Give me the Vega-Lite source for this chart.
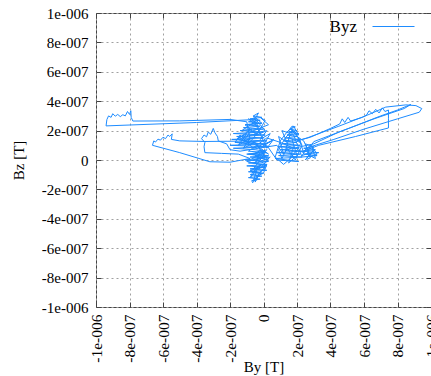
{
  "$schema": "https://vega.github.io/schema/vega-lite/v6.json",
  "width": 335,
  "height": 294,
  "autosize": "none",
  "padding": {"left": 96, "top": 13, "right": 0, "bottom": 69},
  "background": "white",
  "config": {
    "font": "Liberation Serif",
    "view": {"stroke": "#444444", "strokeWidth": 1},
    "axis": {
      "domain": false,
      "gridColor": "#a0a0a0",
      "gridDash": [2, 3],
      "gridWidth": 1,
      "tickColor": "#444444",
      "tickSize": -5,
      "labelFont": "Liberation Serif",
      "titleFont": "Liberation Serif",
      "labelColor": "black",
      "titleColor": "black",
      "titleFontWeight": "normal",
      "titleFontSize": 15
    },
    "legend": {"labelFont": "Liberation Serif"}
  },
  "data": {
    "values": [
      {"t":1,"by":-2e-8,"bz":5e-8},{"t":2,"by":-5e-8,"bz":-2e-8},{"t":3,"by":0,"bz":3e-8},{"t":4,"by":-6e-8,"bz":-6e-8},
      {"t":5,"by":-1e-8,"bz":-3e-8},{"t":6,"by":-7e-8,"bz":-9e-8},{"t":7,"by":-3e-8,"bz":-4e-8},{"t":8,"by":-8e-8,"bz":-12e-8},
      {"t":9,"by":-4e-8,"bz":-7e-8},{"t":10,"by":-6e-8,"bz":-14e-8},{"t":11,"by":-3e-8,"bz":-10e-8},{"t":12,"by":-5e-8,"bz":-15e-8},
      {"t":13,"by":-2e-8,"bz":-8e-8},{"t":14,"by":1e-8,"bz":-5e-8},{"t":15,"by":-4e-8,"bz":-11e-8},{"t":16,"by":0,"bz":-9e-8},
      {"t":17,"by":2e-8,"bz":-3e-8},{"t":18,"by":-3e-8,"bz":-6e-8},{"t":19,"by":3e-8,"bz":0},{"t":20,"by":-1e-8,"bz":1e-8},
      {"t":21,"by":-5e-8,"bz":3e-8},{"t":22,"by":1e-8,"bz":5e-8},{"t":23,"by":-7e-8,"bz":1e-8},{"t":24,"by":-2e-8,"bz":-1e-8},
      {"t":25,"by":4e-8,"bz":2e-8},{"t":26,"by":0,"bz":-2e-8},{"t":27,"by":-4e-8,"bz":0},{"t":28,"by":2e-8,"bz":7e-8},
      {"t":29,"by":-6e-8,"bz":4e-8},{"t":30,"by":-1e-8,"bz":7e-8},{"t":31,"by":3e-8,"bz":4e-8},{"t":32,"by":-3e-8,"bz":9e-8},
      {"t":33,"by":1e-8,"bz":2e-8},{"t":34,"by":-5e-8,"bz":12e-8},{"t":35,"by":-12e-8,"bz":8e-8},{"t":36,"by":-8e-8,"bz":15e-8},
      {"t":37,"by":-15e-8,"bz":10e-8},{"t":38,"by":-10e-8,"bz":18e-8},{"t":39,"by":-16e-8,"bz":14e-8},{"t":40,"by":-7e-8,"bz":21e-8},
      {"t":41,"by":-13e-8,"bz":20e-8},{"t":42,"by":-5e-8,"bz":26e-8},{"t":43,"by":-9e-8,"bz":28e-8},{"t":44,"by":-3e-8,"bz":22e-8},
      {"t":45,"by":-6e-8,"bz":30e-8},{"t":46,"by":-1e-8,"bz":25e-8},{"t":47,"by":-11e-8,"bz":24e-8},{"t":48,"by":-4e-8,"bz":17e-8},
      {"t":49,"by":2e-8,"bz":20e-8},{"t":50,"by":-2e-8,"bz":14e-8},{"t":51,"by":4e-8,"bz":18e-8},{"t":52,"by":0,"bz":10e-8},
      {"t":53,"by":5e-8,"bz":13e-8},{"t":54,"by":-6e-8,"bz":8e-8},{"t":55,"by":-14e-8,"bz":17e-8},{"t":56,"by":-17e-8,"bz":12e-8},
      {"t":57,"by":-9e-8,"bz":11e-8},{"t":58,"by":-3e-8,"bz":19e-8},{"t":59,"by":1e-8,"bz":27e-8},{"t":60,"by":-2e-8,"bz":29e-8},
      {"t":61,"by":3e-8,"bz":24e-8},{"t":62,"by":-8e-8,"bz":19e-8},{"t":63,"by":-12e-8,"bz":13e-8},{"t":64,"by":-1e-8,"bz":9e-8},
      {"t":65,"by":6e-8,"bz":14e-8},{"t":66,"by":2e-8,"bz":8e-8},{"t":67,"by":-6e-8,"bz":27.5e-8},{"t":68,"by":-40e-8,"bz":25.5e-8},
      {"t":69,"by":-94e-8,"bz":23.2e-8},{"t":70,"by":-93.5e-8,"bz":27.5e-8},{"t":71,"by":-92.5e-8,"bz":30e-8},{"t":72,"by":-91e-8,"bz":29e-8},
      {"t":73,"by":-90e-8,"bz":31.5e-8},{"t":74,"by":-88.5e-8,"bz":29.8e-8},{"t":75,"by":-87e-8,"bz":31e-8},{"t":76,"by":-85.5e-8,"bz":29.5e-8},
      {"t":77,"by":-84e-8,"bz":30.8e-8},{"t":78,"by":-82.5e-8,"bz":30e-8},{"t":79,"by":-81.2e-8,"bz":33e-8},{"t":80,"by":-80e-8,"bz":31e-8},
      {"t":81,"by":-79.2e-8,"bz":33.5e-8},{"t":82,"by":-79e-8,"bz":29e-8},{"t":83,"by":-78e-8,"bz":26.5e-8},{"t":84,"by":-50e-8,"bz":26.6e-8},
      {"t":85,"by":-20e-8,"bz":27.6e-8},{"t":86,"by":-10e-8,"bz":26e-8},{"t":87,"by":-8e-8,"bz":14e-8},{"t":88,"by":-15e-8,"bz":12.8e-8},
      {"t":89,"by":-35e-8,"bz":12.6e-8},{"t":90,"by":-50e-8,"bz":13e-8},{"t":91,"by":-55e-8,"bz":14e-8},{"t":92,"by":-54.5e-8,"bz":17.8e-8},
      {"t":93,"by":-56e-8,"bz":16e-8},{"t":94,"by":-57e-8,"bz":17e-8},{"t":95,"by":-58.5e-8,"bz":14.5e-8},{"t":96,"by":-60e-8,"bz":15.5e-8},
      {"t":97,"by":-61.5e-8,"bz":13.5e-8},{"t":98,"by":-63e-8,"bz":14.2e-8},{"t":99,"by":-64.5e-8,"bz":12.2e-8},{"t":100,"by":-65.5e-8,"bz":13e-8},
      {"t":101,"by":-66.3e-8,"bz":10e-8},{"t":102,"by":-50e-8,"bz":5e-8},{"t":103,"by":-32e-8,"bz":-1.2e-8},{"t":104,"by":-20e-8,"bz":-1.5e-8},
      {"t":105,"by":-8e-8,"bz":1e-8},{"t":106,"by":-15e-8,"bz":4e-8},{"t":107,"by":-25e-8,"bz":4.5e-8},{"t":108,"by":-35e-8,"bz":5e-8},
      {"t":109,"by":-35.5e-8,"bz":9e-8},{"t":110,"by":-35e-8,"bz":12e-8},{"t":111,"by":-37e-8,"bz":14.5e-8},{"t":112,"by":-35.5e-8,"bz":17e-8},
      {"t":113,"by":-34e-8,"bz":15.8e-8},{"t":114,"by":-33e-8,"bz":19e-8},{"t":115,"by":-31.5e-8,"bz":17.5e-8},{"t":116,"by":-30e-8,"bz":21.5e-8},
      {"t":117,"by":-29e-8,"bz":18.5e-8},{"t":118,"by":-27.5e-8,"bz":16e-8},{"t":119,"by":-27e-8,"bz":13e-8},{"t":120,"by":-22e-8,"bz":11e-8},
      {"t":121,"by":-20e-8,"bz":7e-8},{"t":122,"by":-14e-8,"bz":6e-8},{"t":123,"by":8e-8,"bz":10e-8},{"t":124,"by":12e-8,"bz":4e-8},
      {"t":125,"by":9e-8,"bz":16e-8},{"t":126,"by":14e-8,"bz":12e-8},{"t":127,"by":11e-8,"bz":20e-8},{"t":128,"by":16e-8,"bz":18e-8},
      {"t":129,"by":13e-8,"bz":6e-8},{"t":130,"by":18e-8,"bz":9e-8},{"t":131,"by":15e-8,"bz":-2e-8},{"t":132,"by":20e-8,"bz":3e-8},
      {"t":133,"by":17e-8,"bz":14e-8},{"t":134,"by":22e-8,"bz":12e-8},{"t":135,"by":19e-8,"bz":19e-8},{"t":136,"by":16e-8,"bz":21e-8},
      {"t":137,"by":21e-8,"bz":17e-8},{"t":138,"by":18e-8,"bz":23e-8},{"t":139,"by":14e-8,"bz":19e-8},{"t":140,"by":10e-8,"bz":13e-8},
      {"t":141,"by":7e-8,"bz":2e-8},{"t":142,"by":12e-8,"bz":-3e-8},{"t":143,"by":16e-8,"bz":1e-8},{"t":144,"by":20e-8,"bz":7e-8},
      {"t":145,"by":24e-8,"bz":5e-8},{"t":146,"by":21e-8,"bz":15e-8},{"t":147,"by":23e-8,"bz":10e-8},{"t":148,"by":19e-8,"bz":0},
      {"t":149,"by":14e-8,"bz":8e-8},{"t":150,"by":11e-8,"bz":1e-8},{"t":151,"by":9e-8,"bz":7e-8},{"t":152,"by":13e-8,"bz":15e-8},
      {"t":153,"by":17e-8,"bz":20e-8},{"t":154,"by":20e-8,"bz":16e-8},{"t":155,"by":24e-8,"bz":13e-8},{"t":156,"by":26e-8,"bz":8e-8},
      {"t":157,"by":23e-8,"bz":3e-8},{"t":158,"by":28e-8,"bz":5e-8},{"t":159,"by":25e-8,"bz":0},{"t":160,"by":30e-8,"bz":7e-8},
      {"t":161,"by":27e-8,"bz":2e-8},{"t":162,"by":32e-8,"bz":4e-8},{"t":163,"by":29e-8,"bz":9e-8},{"t":164,"by":31e-8,"bz":1e-8},
      {"t":165,"by":26e-8,"bz":4e-8},{"t":166,"by":28e-8,"bz":10e-8},{"t":167,"by":24e-8,"bz":6e-8},{"t":168,"by":33e-8,"bz":10e-8},
      {"t":169,"by":55e-8,"bz":16e-8},{"t":170,"by":74.6e-8,"bz":21.8e-8},{"t":171,"by":74.6e-8,"bz":28e-8},{"t":172,"by":74.6e-8,"bz":34e-8},
      {"t":173,"by":72.5e-8,"bz":33e-8},{"t":174,"by":71e-8,"bz":35.5e-8},{"t":175,"by":69e-8,"bz":32e-8},{"t":176,"by":67e-8,"bz":34.5e-8},
      {"t":177,"by":65e-8,"bz":31.5e-8},{"t":178,"by":63e-8,"bz":33.5e-8},{"t":179,"by":61.5e-8,"bz":30.5e-8},{"t":180,"by":59e-8,"bz":29e-8},
      {"t":181,"by":52e-8,"bz":26.5e-8},{"t":182,"by":50.5e-8,"bz":29e-8},{"t":183,"by":48.5e-8,"bz":25.5e-8},{"t":184,"by":47e-8,"bz":28e-8},
      {"t":185,"by":45.5e-8,"bz":24.5e-8},{"t":186,"by":40e-8,"bz":21.5e-8},{"t":187,"by":28e-8,"bz":15.5e-8},{"t":188,"by":20e-8,"bz":13e-8},
      {"t":189,"by":26e-8,"bz":15e-8},{"t":190,"by":45e-8,"bz":23e-8},{"t":191,"by":62e-8,"bz":30.5e-8},{"t":192,"by":73e-8,"bz":36e-8},
      {"t":193,"by":85e-8,"bz":37.5e-8},{"t":194,"by":91e-8,"bz":37e-8},{"t":195,"by":94.5e-8,"bz":35e-8},{"t":196,"by":93e-8,"bz":32.5e-8},
      {"t":197,"by":80e-8,"bz":28e-8},{"t":198,"by":60e-8,"bz":21e-8},{"t":199,"by":42e-8,"bz":14e-8},{"t":200,"by":28e-8,"bz":9e-8},
      {"t":201,"by":30e-8,"bz":12.5e-8},{"t":202,"by":52e-8,"bz":22e-8},{"t":203,"by":70e-8,"bz":30e-8},{"t":204,"by":80e-8,"bz":34e-8},
      {"t":205,"by":88e-8,"bz":37.8e-8},{"t":206,"by":84e-8,"bz":35e-8},{"t":207,"by":66e-8,"bz":28e-8},{"t":208,"by":45e-8,"bz":19e-8},
      {"t":209,"by":30e-8,"bz":11e-8},{"t":210,"by":18e-8,"bz":8e-8},{"t":211,"by":10e-8,"bz":12e-8},{"t":212,"by":2e-8,"bz":15e-8},
      {"t":213,"by":-9e-8,"bz":6e-8},{"t":214,"by":2e-8,"bz":5e-8},{"t":215,"by":-10e-8,"bz":4e-8},{"t":216,"by":3e-8,"bz":3e-8},
      {"t":217,"by":-8e-8,"bz":2e-8},{"t":218,"by":1e-8,"bz":1.5e-8},{"t":219,"by":-11e-8,"bz":0},{"t":220,"by":3e-8,"bz":-1e-8},
      {"t":221,"by":-9e-8,"bz":-2e-8},{"t":222,"by":2e-8,"bz":-3e-8},{"t":223,"by":-10e-8,"bz":-4e-8},{"t":224,"by":1e-8,"bz":-5e-8},
      {"t":225,"by":-8e-8,"bz":-6e-8},{"t":226,"by":2e-8,"bz":-7e-8},{"t":227,"by":-9e-8,"bz":-8e-8},{"t":228,"by":0,"bz":-9e-8},
      {"t":229,"by":-8e-8,"bz":-10e-8},{"t":230,"by":-1e-8,"bz":-11e-8},{"t":231,"by":-9e-8,"bz":-12e-8},{"t":232,"by":-2e-8,"bz":-13e-8},
      {"t":233,"by":-7e-8,"bz":-14e-8},{"t":234,"by":-6.5e-8,"bz":-15.5e-8},{"t":235,"by":-4e-8,"bz":-12e-8},{"t":236,"by":-1e-8,"bz":-9e-8},
      {"t":237,"by":-8e-8,"bz":-7e-8},{"t":238,"by":2e-8,"bz":-4e-8},{"t":239,"by":-10e-8,"bz":-1e-8},{"t":240,"by":3e-8,"bz":2e-8},
      {"t":241,"by":-9e-8,"bz":4e-8},{"t":242,"by":1e-8,"bz":6e-8},{"t":243,"by":-5e-8,"bz":7e-8},
      {"t":244,"by":-18e-8,"bz":8e-8},{"t":245,"by":2e-8,"bz":9e-8},{"t":246,"by":-20e-8,"bz":10e-8},{"t":247,"by":1e-8,"bz":11e-8},
      {"t":248,"by":-17e-8,"bz":12e-8},{"t":249,"by":2e-8,"bz":13e-8},{"t":250,"by":-19e-8,"bz":14e-8},{"t":251,"by":0,"bz":15e-8},
      {"t":252,"by":-16e-8,"bz":16e-8},{"t":253,"by":1e-8,"bz":17e-8},{"t":254,"by":-18e-8,"bz":18e-8},{"t":255,"by":-1e-8,"bz":19e-8},
      {"t":256,"by":-14e-8,"bz":20e-8},{"t":257,"by":0,"bz":21e-8},{"t":258,"by":-12e-8,"bz":22e-8},{"t":259,"by":-2e-8,"bz":23e-8},
      {"t":260,"by":-11e-8,"bz":24e-8},{"t":261,"by":-1e-8,"bz":25e-8},{"t":262,"by":-9e-8,"bz":26e-8},{"t":263,"by":-2e-8,"bz":27e-8},
      {"t":264,"by":-8e-8,"bz":28e-8},{"t":265,"by":-1e-8,"bz":29e-8},{"t":266,"by":-6e-8,"bz":30e-8},{"t":267,"by":-3e-8,"bz":32e-8},
      {"t":268,"by":-5e-8,"bz":28e-8},{"t":269,"by":1e-8,"bz":20e-8},{"t":270,"by":-15e-8,"bz":14e-8},{"t":271,"by":2e-8,"bz":10e-8},
      {"t":272,"by":8e-8,"bz":0},{"t":273,"by":21e-8,"bz":-1e-8},{"t":274,"by":7e-8,"bz":1e-8},{"t":275,"by":23e-8,"bz":2e-8},
      {"t":276,"by":9e-8,"bz":3e-8},{"t":277,"by":22e-8,"bz":4e-8},{"t":278,"by":8e-8,"bz":5e-8},{"t":279,"by":23e-8,"bz":6e-8},
      {"t":280,"by":10e-8,"bz":7e-8},{"t":281,"by":21e-8,"bz":8e-8},{"t":282,"by":9e-8,"bz":9e-8},{"t":283,"by":22e-8,"bz":10e-8},
      {"t":284,"by":11e-8,"bz":11e-8},{"t":285,"by":20e-8,"bz":12e-8},{"t":286,"by":12e-8,"bz":13e-8},{"t":287,"by":21e-8,"bz":14e-8},
      {"t":288,"by":13e-8,"bz":15e-8},{"t":289,"by":20e-8,"bz":16e-8},{"t":290,"by":14e-8,"bz":17e-8},{"t":291,"by":21e-8,"bz":18e-8},
      {"t":292,"by":15e-8,"bz":19e-8},{"t":293,"by":20e-8,"bz":20e-8},{"t":294,"by":16e-8,"bz":21e-8},{"t":295,"by":19e-8,"bz":22.5e-8},
      {"t":296,"by":17e-8,"bz":23e-8},{"t":297,"by":15e-8,"bz":20e-8},{"t":298,"by":18e-8,"bz":17e-8},
      {"t":299,"by":23e-8,"bz":2e-8},{"t":300,"by":32e-8,"bz":3e-8},{"t":301,"by":24e-8,"bz":4e-8},{"t":302,"by":33e-8,"bz":5e-8},
      {"t":303,"by":23e-8,"bz":6e-8},{"t":304,"by":31e-8,"bz":7e-8},{"t":305,"by":24e-8,"bz":8e-8},{"t":306,"by":30e-8,"bz":9e-8},
      {"t":307,"by":25e-8,"bz":11e-8},{"t":308,"by":28e-8,"bz":1.5e-8},{"t":309,"by":26e-8,"bz":0.5e-8}
    ]
  },
  "layer": [
    {
      "mark": {"type": "line", "strokeWidth": 1, "clip": true},
      "encoding": {
        "x": {
          "field": "by",
          "type": "quantitative",
          "scale": {"domain": [-1e-6, 1e-6], "nice": false, "zero": false},
          "axis": {
            "orient": "bottom",
            "values": [-1e-6, -8e-7, -6e-7, -4e-7, -2e-7, 0, 2e-7, 4e-7, 6e-7, 8e-7, 1e-6],
            "labelExpr": "datum.value == 0 ? '0' : replace(replace(format(datum.value, '.0e'), 'e-', 'e-00'), '\u2212', '-')",
            "labelAngle": -90,
            "labelFont": "Liberation Serif",
            "labelFontSize": 15.5,
            "labelPadding": 12,
            "labelFlush": false,
            "labelOverlap": false,
            "title": "By [T]",
            "titleFont": "Liberation Serif",
            "titleY": 64,
            "titleBaseline": "alphabetic"
          }
        },
        "y": {
          "field": "bz",
          "type": "quantitative",
          "scale": {"domain": [-1e-6, 1e-6], "nice": false, "zero": false},
          "axis": {
            "orient": "left",
            "values": [-1e-6, -8e-7, -6e-7, -4e-7, -2e-7, 0, 2e-7, 4e-7, 6e-7, 8e-7, 1e-6],
            "labelExpr": "datum.value == 0 ? '0' : replace(replace(format(datum.value, '.0e'), 'e-', 'e-00'), '\u2212', '-')",
            "labelFont": "Liberation Serif",
            "labelFontSize": 15,
            "labelPadding": 13,
            "labelFlush": false,
            "labelOverlap": false,
            "title": "Bz [T]",
            "titleFont": "Liberation Serif",
            "titleX": -73,
            "titleY": 147,
            "titleAlign": "center",
            "titleBaseline": "alphabetic"
          }
        },
        "order": {"field": "t", "type": "quantitative"},
        "color": {
          "datum": "Byz",
          "type": "nominal",
          "scale": {"range": ["#1e8cff"]},
          "legend": {
            "title": null,
            "orient": "none",
            "legendX": 276,
            "legendY": -8,
            "padding": 0,
            "symbolType": "stroke",
            "symbolSize": 1764,
            "symbolStrokeWidth": 1,
            "labelFont": "Liberation Serif",
            "labelFontSize": 17,
            "labelAlign": "right",
            "labelOffset": -58,
            "labelColor": "black"
          }
        }
      }
    },
    {
      "mark": {"type": "point", "opacity": 0},
      "encoding": {
        "x": {
          "field": "by",
          "type": "quantitative",
          "scale": {"domain": [-1e-6, 1e-6], "nice": false, "zero": false},
          "axis": {
            "orient": "top",
            "values": [-1e-6, -8e-7, -6e-7, -4e-7, -2e-7, 0, 2e-7, 4e-7, 6e-7, 8e-7, 1e-6],
            "labels": false,
            "grid": false,
            "title": null
          }
        },
        "y": {
          "field": "bz",
          "type": "quantitative",
          "scale": {"domain": [-1e-6, 1e-6], "nice": false, "zero": false},
          "axis": {
            "orient": "right",
            "values": [-1e-6, -8e-7, -6e-7, -4e-7, -2e-7, 0, 2e-7, 4e-7, 6e-7, 8e-7, 1e-6],
            "labels": false,
            "grid": false,
            "title": null
          }
        }
      }
    }
  ],
  "resolve": {"axis": {"x": "independent", "y": "independent"}}
}
